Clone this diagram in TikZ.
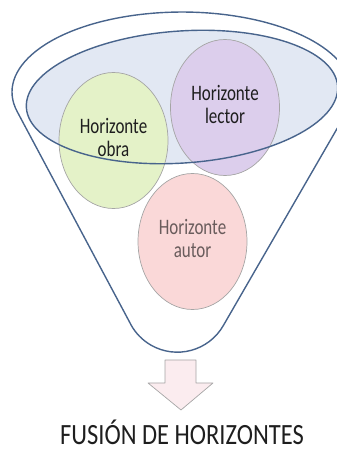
\documentclass[tikz,border=0pt]{standalone}
\usepackage{fontspec}
\setmainfont{Carlito}
\usepackage{graphicx}
\usepackage{xcolor}
\usepackage{tikz}
\usetikzlibrary{shapes.geometric}
\definecolor{fhblue}{RGB}{72,100,140}
\definecolor{fhfill}{RGB}{226,232,243}
\definecolor{fhgreen}{RGB}{228,242,200}
\definecolor{fhpurple}{RGB}{220,206,236}
\definecolor{fhpink}{RGB}{250,216,216}
\definecolor{fhgray}{RGB}{165,165,165}
\definecolor{fhtext}{RGB}{30,30,30}
\definecolor{fhautor}{RGB}{105,92,92}
\definecolor{fharrow}{RGB}{251,236,239}
\newcommand{\hlabel}[2]{\scalebox{1}[1.3]{\begin{tabular}{@{}c@{}}#1\\#2\end{tabular}}}

\begin{document}
\begin{tikzpicture}[x=1pt, y=1pt, line join=round,
  horizonte/.style={ellipse, draw=fhgray, line width=0.7pt, minimum width=109pt,
    minimum height=136pt, inner sep=0pt, text=fhtext, font=\fontsize{17}{17.5}\selectfont},
  funnel/.style={draw=fhblue, line width=1.4pt}]
  \path[use as bounding box] (0,0) rectangle (337,453);

  % funnel outline
  \draw[funnel] (130.8,128.6) -- (17.3,341.2)
    arc[start angle=194.3, end angle=-15.1, x radius=170, y radius=80]
    -- (223.3,127.4) arc[start angle=330.1, end angle=208.4, radius=53] -- cycle;

  % mouth of the funnel
  \fill[fhfill, rotate around={4:(182,356)}] (182,356) ellipse[x radius=156, y radius=66];

  \node[horizonte, fill=fhgreen] (obra) at (113.5,312.5) {\hlabel{Horizonte}{obra}};
  \node[horizonte, fill=fhpurple] (lector) at (225,345.5) {\hlabel{Horizonte}{lector}};
  \node[horizonte, fill=fhpink, text=fhautor] (autor) at (192.5,211.5) {\hlabel{Horizonte}{autor}};

  \draw[funnel, rotate around={4:(182,356)}] (182,356) ellipse[x radius=156, y radius=66];

  % block arrow
  \draw[fhgray, fill=fharrow, line width=0.7pt]
    (165,93) -- (196,93) -- (196,70) -- (213,70) -- (181,43) -- (148,70) -- (165,70) -- cycle;

  \node[anchor=base, inner sep=0pt, text=fhtext, font=\fontsize{24.5}{28}\selectfont]
    (titulo) at (182,8) {\scalebox{1}[1.2]{FUSIÓN DE HORIZONTES}};

\end{tikzpicture}
\end{document}
